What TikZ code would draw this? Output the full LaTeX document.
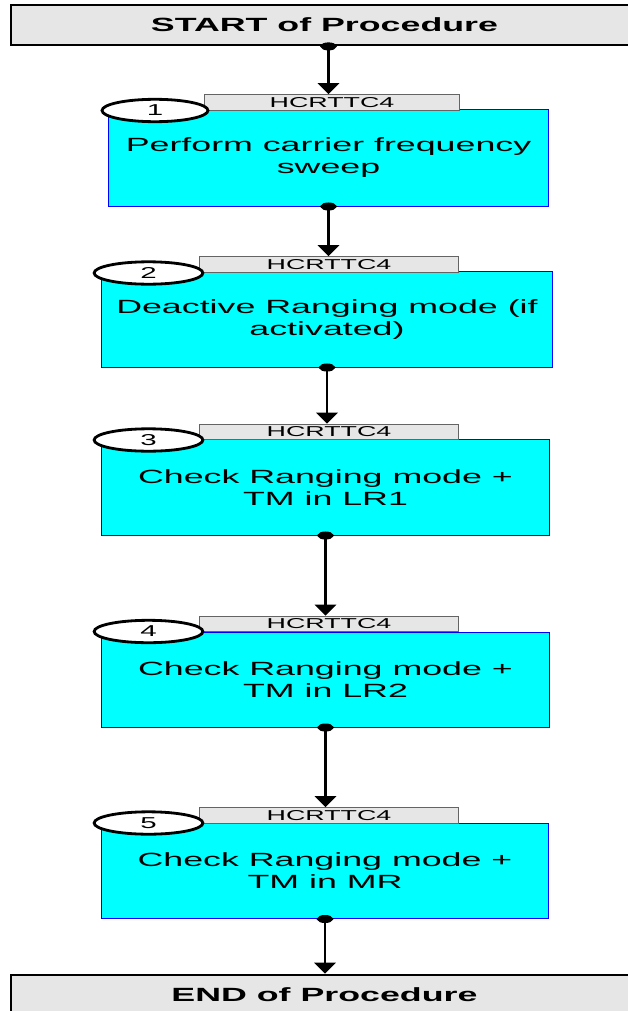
\documentclass[tikz,border=0pt]{standalone}
\usepackage{fontspec}
\setmainfont{Liberation Sans}[FakeStretch=1.87]
\usetikzlibrary{shapes.geometric,arrows.meta}

\definecolor{termgray}{RGB}{230,230,230}
\definecolor{stepcyan}{RGB}{0,255,255}
\definecolor{stepblue}{RGB}{0,0,255}
\definecolor{tabedge}{RGB}{100,100,100}

\begin{document}
\begin{tikzpicture}[x=0.025cm,y=-0.025cm,
    term/.style={draw,line width=2pt,fill=termgray,minimum width=15.675cm,minimum height=1cm,inner sep=0pt,
        font=\fontsize{13.6pt}{15pt}\selectfont\bfseries},
    stepbox/.style={draw=stepblue,line width=0.7pt,fill=stepcyan,minimum width=11.175cm,minimum height=2.375cm,
        inner sep=0pt,align=center,font=\fontsize{13.6pt}{15.6pt}\selectfont},
    tab/.style={draw=tabedge,line width=0.7pt,fill=termgray,minimum width=6.45cm,minimum height=0.39cm,inner sep=0pt,
        font=\fontsize{10.2pt}{10pt}\selectfont},
    num/.style={draw,ellipse,line width=2pt,fill=white,minimum width=2.72cm,minimum height=0.56cm,inner sep=0pt,
        font=\fontsize{11.2pt}{11pt}\selectfont},
    flow/.style={line width=2pt,{Ellipse[length=5.7pt,width=11.3pt]}-{Triangle[length=7.8pt,width=15pt]},shorten <=-2.85pt}]

        \useasboundingbox (0,0) rectangle (628,1011);
        \clip (0,0) rectangle (628,1011);

        \node[term] (start) at (324.5,25) {START of Procedure};

        \node[stepbox,minimum width=10.975cm,minimum height=2.4cm] (b1) at (328.5,158) {Perform carrier frequency\\sweep};
        \node[tab,minimum width=6.35cm] (t1) at (332,102.5) {HCRTTC4};
        \node[num,minimum width=2.65cm] (e1) at (155,110.5) {1};

        \node[stepbox,minimum width=11.25cm] (b2) at (327,319.5) {Deactive Ranging mode (if\\activated)};
        \node[tab] (t2) at (329,264.5) {HCRTTC4};
        \node[num] (e2) at (148.5,273) {2};

        \node[stepbox] (b3) at (325.5,487.5) {Check Ranging mode +\\TM in LR1};
        \node[tab] (t3) at (329,432) {HCRTTC4};
        \node[num] (e3) at (148.5,440) {3};

        \node[stepbox] (b4) at (325.5,679.5) {Check Ranging mode +\\TM in LR2};
        \node[tab] (t4) at (329,624) {HCRTTC4};
        \node[num] (e4) at (148.5,631.5) {4};

        \node[stepbox] (b5) at (325,871) {Check Ranging mode +\\TM in MR};
        \node[tab] (t5) at (329,815.5) {HCRTTC4};
        \node[num] (e5) at (148.5,823) {5};

        \node[term] (end) at (324.5,995) {END of Procedure};

        \path[draw,flow] (start.south -| b1.south) -- (b1.south |- t1.north);
        \path[draw,flow] (b1.south) -- (b1.south |- t2.north);
        \path[draw,flow] (b2.south) -- (b2.south |- t3.north);
        \path[draw,flow] (b3.south) -- (b3.south |- t4.north);
        \path[draw,flow] (b4.south) -- (b4.south |- t5.north);
        \path[draw,flow] (b5.south) -- (b5.south |- end.north);
    \end{tikzpicture}
\end{document}
